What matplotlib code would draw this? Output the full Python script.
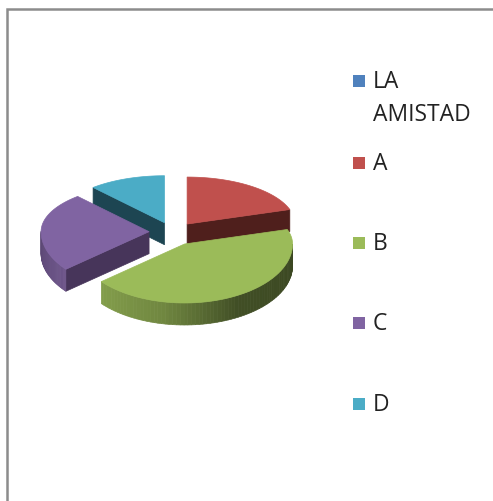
import numpy as np
import matplotlib
matplotlib.use("Agg")
import matplotlib.pyplot as plt
from matplotlib.patches import Polygon, Rectangle

# Data
categories = ["LA\nAMISTAD", "A", "B", "C", "D"]
values = [0, 20, 44, 24.5, 11.5]
colors = ["#4f81bd", "#c0504d", "#9bbb59", "#8064a2", "#4bacc6"]
face_colors = ["#2a4564", "#4f1f1c", "#3d4a23", "#47355a", "#1d4552"]
legend_y = [82, 164, 244, 324, 405]

# pie projection, in pixels of the output
cx, cy = 173, 233.5
rx, ry_back, ry_front = 108, 47, 59
depth = 22
explode = 24


def project(theta, r=1.0):
    # theta in degrees, clockwise from 12 o'clock
    t = np.radians(theta)
    ry = np.where(np.cos(t) > 0, ry_back, ry_front)
    return r * rx * np.sin(t), -r * ry * np.cos(t)


def shade(color, f):
    rgb = np.array(matplotlib.colors.to_rgb(color))
    return tuple(rgb * f)


fig = plt.figure(figsize=(4.93, 5.02), dpi=100)
ax = fig.add_axes([0, 0, 1, 1])
ax.set_xlim(0, 493)
ax.set_ylim(502, 0)
ax.axis("off")

# chart frame, only top and left show
ax.plot([7, 7, 493], [502, 10, 10], color="#8c8c8c", lw=1.8, solid_joinstyle="miter")

# slice angles from the values
ends = np.cumsum(values) / np.sum(values) * 360
starts = ends - np.array(values) / np.sum(values) * 360

# back slices first, green one on top of the others
for i in [4, 1, 3, 2]:
    a0, a1 = starts[i], ends[i]
    mid = (a0 + a1) / 2
    ox, oy = project(mid, explode / rx)
    ox, oy = cx + ox, cy + oy
    angles = np.linspace(a0, a1, 80)
    ex, ey = project(angles)
    ex, ey = ex + ox, ey + oy

    # straight cut faces
    if 0 < a1 < 180:
        ax.add_patch(Polygon([(ox, oy), (ex[-1], ey[-1]), (ex[-1], ey[-1] + depth), (ox, oy + depth)],
                             fc=face_colors[i], ec=face_colors[i], lw=0.5))
    if 180 < a0 < 360:
        ax.add_patch(Polygon([(ox, oy), (ex[0], ey[0]), (ex[0], ey[0] + depth), (ox, oy + depth)],
                             fc=face_colors[i], ec=face_colors[i], lw=0.5))

    # rim with gradient, front half only
    for j in range(len(angles) - 1):
        if 90 <= angles[j] <= 270:
            f = np.interp(angles[j], [90, 150, 190, 231, 270], [0.38, 0.42, 0.72, 0.85, 0.72])
            c = shade(colors[i], f)
            ax.add_patch(Polygon([(ex[j], ey[j]), (ex[j + 1], ey[j + 1]),
                                  (ex[j + 1], ey[j + 1] + depth), (ex[j], ey[j] + depth)],
                                 fc=c, ec=c, lw=0.5))

    # top
    ax.add_patch(Polygon(np.vstack([[ox, oy], np.column_stack([ex, ey])]), fc=colors[i], ec=colors[i], lw=0.5))

# legend
for name, c, y in zip(categories, colors, legend_y):
    ax.add_patch(Rectangle((353, y - 6), 12, 12, fc=c, ec="none"))
    for k, line in enumerate(name.split("\n")):
        ax.text(373, y + 33 * k, line, family="Open Sans", fontsize=16.5, color="#222222",
                va="center", ha="left")

fig.savefig("out.png", dpi=100)
